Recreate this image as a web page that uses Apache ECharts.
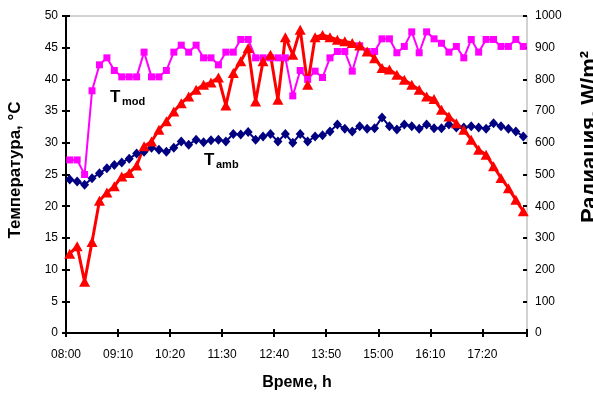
<!DOCTYPE html>
<html>
<head>
<meta charset="utf-8">
<script src="https://cdn.jsdelivr.net/npm/echarts@6/dist/echarts.min.js"></script>
<style>
  html, body { margin: 0; padding: 0; background: #fff; }
  #chart { width: 593px; height: 395px; }
</style>
</head>
<body>
<div id="chart"></div>
<script>
// minutes after 08:00, one reading every 10 min starting 08:05
const minutes = [];
for (let m = 5; m <= 615; m += 10) minutes.push(m);

const tMod = [
  27.3, 27.3, 25.0, 38.2, 42.3, 43.4, 41.4, 40.4, 40.4, 40.4,
  44.3, 40.4, 40.4, 41.4, 44.3, 45.4, 44.3, 45.4, 43.4, 43.4,
  42.3, 44.3, 44.3, 46.3, 46.3, 43.4, 43.4, 43.4, 43.4, 43.4,
  37.4, 41.4, 40.0, 41.3, 40.3, 43.4, 44.4, 44.4, 41.3, 45.3,
  44.4, 44.4, 46.4, 46.4, 44.2, 45.2, 47.5, 44.2, 47.5, 46.4,
  45.7, 44.3, 45.2, 43.4, 46.3, 44.3, 46.3, 46.3, 45.2, 45.2,
  46.3, 45.2,
];
const tAmb = [
  24.2, 23.9, 23.4, 24.4, 25.2, 26.0, 26.5, 26.9, 27.5, 28.3,
  28.6, 29.2, 28.9, 28.6, 29.2, 30.2, 29.7, 30.5, 30.1, 30.4,
  30.5, 30.2, 31.4, 31.3, 31.7, 30.5, 31.0, 31.4, 30.2, 31.4,
  30.0, 31.4, 30.2, 31.0, 31.2, 31.8, 32.9, 32.2, 31.8, 32.6,
  32.2, 32.3, 34.0, 32.6, 32.1, 32.9, 32.6, 32.2, 32.9, 32.3,
  32.3, 32.9, 32.4, 32.4, 32.6, 32.4, 32.2, 33.1, 32.6, 32.2,
  31.8, 31.0,
];
const radiation = [
  250, 274, 162, 287, 417, 443, 463, 494, 505, 528,
  589, 604, 641, 668, 699, 725, 746, 767, 783, 790,
  806, 718, 820, 857, 899, 730, 857, 878, 736, 933,
  878, 957, 783, 933, 940, 933, 925, 920, 915, 907,
  888, 867, 836, 831, 815, 799, 783, 767, 746, 738,
  704, 683, 662, 641, 610, 578, 562, 526, 489, 457,
  420, 384,
];

const FONT = "Arial, 'Liberation Sans', sans-serif";

function pairs(values) {
  return values.map((v, i) => [minutes[i], v]);
}
function fmtTime(v) {
  if (v % 70 !== 0 || v > 560) return "";
  const t = 480 + v;
  const h = Math.floor(t / 60);
  const m = t % 60;
  return `${String(h).padStart(2, "0")}:${String(m).padStart(2, "0")}`;
}

const chartElement = document.getElementById("chart");
const chartInstance = echarts.init(chartElement);

const axisLine = { show: true, lineStyle: { color: "#000", width: 2 } };
const tickOut = { show: true, length: 4, lineStyle: { color: "#000", width: 2 } };
const tickIn = { show: true, inside: true, length: 4, lineStyle: { color: "#000", width: 2 } };
const labelStyle = { color: "#000", fontSize: 12, fontFamily: FONT };

const option = {
  animation: false,
  grid: {
    left: 66, right: 66, top: 16, bottom: 62,
    show: true, borderColor: "#a6a6a6", borderWidth: 1,
  },
  xAxis: [
    {
      type: "value", min: 0, max: 620, interval: 70,
      axisLine: axisLine, axisTick: tickOut,
      axisLabel: { ...labelStyle, margin: 16, formatter: fmtTime },
      splitLine: { show: false },
    },
    {
      type: "value", min: 0, max: 620, interval: 70, position: "bottom",
      axisLine: { show: false }, axisTick: tickIn,
      axisLabel: { show: false }, splitLine: { show: false },
    },
  ],
  yAxis: [
    {
      type: "value", min: 0, max: 50, interval: 5, position: "left",
      axisLine: axisLine, axisTick: tickOut,
      axisLabel: { ...labelStyle, margin: 8 },
      splitLine: { show: false },
    },
    {
      type: "value", min: 0, max: 1000, interval: 100, position: "right",
      axisLine: axisLine, axisTick: tickOut,
      axisLabel: { ...labelStyle, margin: 8, formatter: (v) => String(v) },
      splitLine: { show: false },
    },
    {
      type: "value", min: 0, max: 50, interval: 5, position: "left",
      axisLine: { show: false }, axisTick: tickIn,
      axisLabel: { show: false }, splitLine: { show: false },
    },
    {
      type: "value", min: 0, max: 1000, interval: 100, position: "right",
      axisLine: { show: false }, axisTick: tickIn,
      axisLabel: { show: false }, splitLine: { show: false },
    },
  ],
  series: [
    {
      name: "Tamb", type: "line", yAxisIndex: 0,
      data: pairs(tAmb),
      symbol: "diamond", symbolSize: [9, 10],
      lineStyle: { color: "#000080", width: 2 },
      itemStyle: { color: "#000080" },
    },
    {
      name: "Tmod", type: "line", yAxisIndex: 0,
      data: pairs(tMod),
      symbol: "rect", symbolSize: 7,
      lineStyle: { color: "#ff00ff", width: 2 },
      itemStyle: { color: "#ff00ff" },
    },
    {
      name: "Radiation", type: "line", yAxisIndex: 1,
      data: pairs(radiation),
      symbol: "triangle", symbolSize: [11, 10],
      lineStyle: { color: "#ff0000", width: 3 },
      itemStyle: { color: "#ff0000" },
    },
  ],
  graphic: [
    { type: "text", x: 110, y: 89, style: { text: "T", font: `bold 17px ${FONT}`, fill: "#000" } },
    { type: "text", x: 122, y: 96, style: { text: "mod", font: `bold 11px ${FONT}`, fill: "#000" } },
    { type: "text", x: 204, y: 152, style: { text: "T", font: `bold 17px ${FONT}`, fill: "#000" } },
    { type: "text", x: 216, y: 159, style: { text: "amb", font: `bold 11px ${FONT}`, fill: "#000" } },
    {
      type: "text", x: 297, y: 383,
      style: { text: "Време, h", font: `bold 16px ${FONT}`, fill: "#000", align: "center", verticalAlign: "middle" },
    },
    {
      type: "text", x: 15, y: 170, rotation: Math.PI / 2,
      style: { text: "Температура, °C", font: `bold 17px ${FONT}`, fill: "#000", align: "center", verticalAlign: "middle" },
    },
    {
      type: "text", x: 590, y: 137, rotation: Math.PI / 2,
      style: { text: "Радиация, W/m²", font: `bold 22px ${FONT}`, fill: "#000", align: "center", verticalAlign: "middle" },
    },
  ],
};
chartInstance.setOption(option);
</script>
</body>
</html>
